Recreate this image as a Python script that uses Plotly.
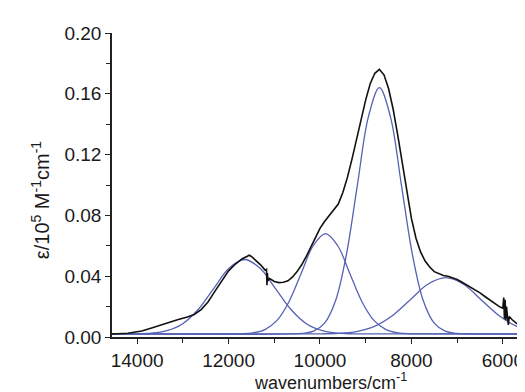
import plotly.graph_objects as go

# ---------------- data ----------------
# experimental spectrum (black)
wn_exp = [14550, 14400, 14200, 14000, 13900, 13700, 13500, 13300, 13100, 12900,
          12750, 12600, 12450, 12300, 12150, 12000, 11850, 11700, 11600, 11550,
          11500, 11400, 11300, 11200, 11170, 11160, 11150, 11140, 11100, 11000,
          10900, 10800, 10700, 10600, 10500, 10400, 10300, 10200, 10100, 10000,
          9900, 9800, 9700, 9600, 9500, 9400, 9300, 9200, 9100, 9000,
          8900, 8800, 8700, 8600, 8500, 8400, 8300, 8200, 8100, 8000,
          7900, 7800, 7700, 7600, 7500, 7400, 7300, 7200, 7100, 7000,
          6900, 6800, 6700, 6600, 6500, 6400, 6300, 6200, 6100, 6050,
          6000, 5980, 5965, 5950, 5935, 5920, 5900, 5880, 5860, 5800,
          5700, 5600, 5500, 5400, 5340]
eps_exp = [0.0020, 0.0022, 0.0025, 0.0035, 0.0040, 0.0058, 0.0078, 0.0097, 0.0115, 0.0132,
           0.0148, 0.0180, 0.0230, 0.0300, 0.0370, 0.0435, 0.0480, 0.0515, 0.0530, 0.0538,
           0.0530, 0.0505, 0.0475, 0.0440, 0.0445, 0.0340, 0.0420, 0.0370, 0.0385, 0.0365,
           0.0358, 0.0360, 0.0370, 0.0395, 0.0430, 0.0475, 0.0530, 0.0595, 0.0660, 0.0715,
           0.0760, 0.0800, 0.0835, 0.0875, 0.0950, 0.1050, 0.1170, 0.1300, 0.1430, 0.1560,
           0.1668, 0.1735, 0.1760, 0.1725, 0.1635, 0.1500, 0.1330, 0.1140, 0.0940, 0.0780,
           0.0650, 0.0560, 0.0500, 0.0460, 0.0430, 0.0415, 0.0405, 0.0400, 0.0390, 0.0378,
           0.0362, 0.0345, 0.0328, 0.0310, 0.0290, 0.0268, 0.0245, 0.0225, 0.0205, 0.0195,
           0.0190, 0.0260, 0.0120, 0.0245, 0.0110, 0.0200, 0.0145, 0.0080, 0.0135, 0.0115,
           0.0090, 0.0072, 0.0055, 0.0042, 0.0035]

# fitted band 1 (blue)
wn_band1 = [14550, 14370, 14030, 13690, 13350, 13010, 12670, 12330, 11990, 11650,
            11310, 10970, 10630, 10290, 9950, 9610, 9270, 8930, 5340]
eps_band1 = [0.0020, 0.0020, 0.0021, 0.0025, 0.0042, 0.0086, 0.0179, 0.0317, 0.0452, 0.0510,
             0.0452, 0.0317, 0.0179, 0.0086, 0.0042, 0.0025, 0.0021, 0.0020, 0.0020]

# fitted band 2 (blue)
wn_band2 = [14550, 12000, 11735, 11470, 11205, 10940, 10675, 10410, 10145, 9880,
            9615, 9350, 9085, 8820, 8555, 8290, 8025, 7760, 5340]
eps_band2 = [0.0020, 0.0020, 0.0021, 0.0027, 0.0049, 0.0109, 0.0234, 0.0420, 0.0602, 0.0680,
             0.0602, 0.0420, 0.0234, 0.0109, 0.0049, 0.0027, 0.0021, 0.0020, 0.0020]

# fitted band 3 (blue)
wn_band3 = [14550, 10620, 10380, 10140, 9900, 9660, 9420, 9180, 8940, 8700,
            8460, 8220, 7980, 7740, 7500, 7260, 7020, 6780, 5340]
eps_band3 = [0.0020, 0.0020, 0.0024, 0.0038, 0.0091, 0.0239, 0.0546, 0.1003, 0.1450, 0.1640,
             0.1450, 0.1003, 0.0546, 0.0239, 0.0091, 0.0038, 0.0024, 0.0020, 0.0020]

# fitted band 4 (blue)
wn_band4 = [14550, 10370, 9980, 9590, 9200, 8810, 8420, 8030, 7640, 7250,
            6860, 6470, 6080, 5690, 5300]
eps_band4 = [0.0020, 0.0020, 0.0021, 0.0024, 0.0036, 0.0070, 0.0140, 0.0244, 0.0347, 0.0390,
             0.0347, 0.0244, 0.0140, 0.0070, 0.0036]

x_ticks = [14000, 12000, 10000, 8000, 6000]
y_ticks = [0.00, 0.04, 0.08, 0.12, 0.16, 0.20]

# ---------------- figure ----------------
BLUE = "#5561b4"
FONT = "Liberation Sans, Arial, sans-serif"

fig = go.Figure()
for wx, wy in [(wn_band1, eps_band1), (wn_band2, eps_band2),
               (wn_band3, eps_band3), (wn_band4, eps_band4)]:
    fig.add_trace(go.Scatter(x=wx, y=wy, mode="lines",
                             line=dict(color=BLUE, width=1.3, shape="spline", smoothing=1.0),
                             showlegend=False, hoverinfo="skip"))

fig.add_trace(go.Scatter(x=wn_exp, y=eps_exp, mode="lines",
                         line=dict(color="#111111", width=1.6),
                         showlegend=False))

fig.update_layout(
    width=525, height=392,
    margin=dict(l=104, r=0, t=25, b=63),
    paper_bgcolor="white", plot_bgcolor="white",
    font=dict(family=FONT, size=19, color="#1a1a1a"),
    xaxis=dict(range=[14550, 5340], tickvals=x_ticks,
               ticktext=[str(v) for v in x_ticks],
               ticks="outside", ticklen=5, tickwidth=1.3, tickcolor="#222",
               minor=dict(dtick=1000, tick0=0, ticks="outside", ticklen=4, tickcolor="#222", tickwidth=1.2),
               showline=True, linecolor="#222", linewidth=1.5,
               showgrid=False, zeroline=False,
               tickfont=dict(size=19)),
    yaxis=dict(range=[0, 0.2], tickvals=y_ticks,
               ticktext=[f"{v:.2f}" for v in y_ticks],
               ticks="outside", ticklen=5, tickwidth=1.3, tickcolor="#222",
               minor=dict(dtick=0.02, tick0=0, ticks="outside", ticklen=4, tickcolor="#222", tickwidth=1.2),
               showline=True, linecolor="#222", linewidth=1.5,
               showgrid=False, zeroline=False,
               tickfont=dict(size=19)),
    annotations=[
        dict(text="wavenumbers/cm<sup>-1</sup>", xref="paper", yref="paper",
             x=0.518, y=-0.192, xanchor="center", yanchor="bottom",
             showarrow=False, font=dict(size=18)),
        dict(text="ε/10<sup>5</sup> M<sup>-1</sup>cm<sup>-1</sup>", xref="paper", yref="paper",
             x=-0.171, y=0.45, xanchor="center", yanchor="middle", textangle=-90,
             showarrow=False, font=dict(size=20)),
    ],
)

fig.write_html("out.html")
